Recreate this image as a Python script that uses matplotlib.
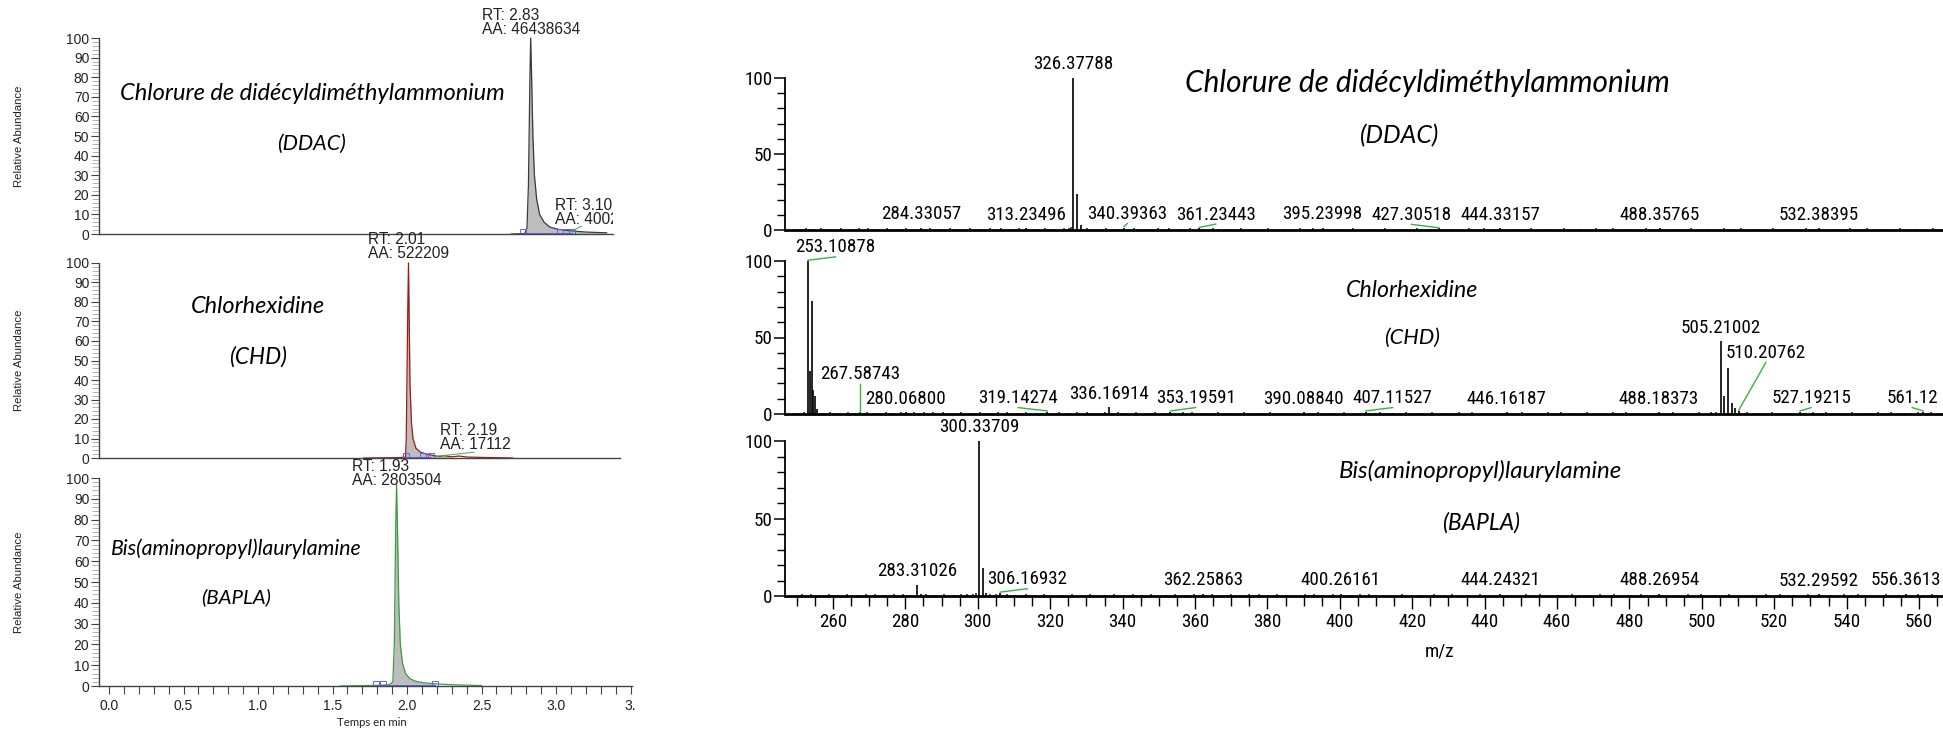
import matplotlib
matplotlib.use("Agg")
import matplotlib.pyplot as plt
from matplotlib.ticker import MultipleLocator, FixedLocator
from matplotlib import font_manager
from matplotlib.font_manager import FontProperties

# ======================= DATA =======================
# --- chromatograms (time, min ; relative abundance, %) ---
ddac_time = [2.70, 2.79, 2.805, 2.815, 2.825, 2.83, 2.835, 2.845, 2.855, 2.87, 2.89, 2.92, 2.96, 3.02, 3.10, 3.20, 3.34]
ddac_abund = [0.0, 0.2, 3.0, 25.0, 80.0, 100.0, 85.0, 50.0, 30.0, 18.0, 10.0, 6.0, 3.5, 2.3, 1.6, 1.0, 0.6]
chd_time = [1.71, 1.95, 1.99, 1.995, 2.005, 2.01, 2.015, 2.02, 2.03, 2.04, 2.06, 2.09, 2.13, 2.18, 2.22, 2.25, 2.30, 2.35, 2.40, 2.50, 2.71]
chd_abund = [0.0, 0.2, 0.5, 10.0, 75.0, 100.0, 70.0, 38.0, 18.0, 10.0, 5.0, 3.0, 2.0, 1.2, 0.8, 1.2, 0.6, 1.0, 0.5, 0.3, 0.0]
bapla_time = [1.55, 1.80, 1.88, 1.905, 1.915, 1.925, 1.93, 1.935, 1.945, 1.955, 1.97, 1.99, 2.02, 2.06, 2.12, 2.20, 2.30, 2.50]
bapla_abund = [0.0, 0.3, 0.6, 2.0, 20.0, 80.0, 97.0, 80.0, 40.0, 20.0, 11.0, 6.0, 3.5, 2.2, 1.5, 1.0, 0.6, 0.2]

# integration limits / markers (min)
ddac_integ = [2.78, 3.03, 3.07, 3.11]
chd_integ = [1.99, 2.11, 2.16]
bapla_integ = [1.79, 1.84, 2.19]

# peak annotations (chromatograms)
ddac_annot = ["RT: 2.83\nAA: 46438634", "RT: 3.10\nAA: 4002"]
chd_annot = ["RT: 2.01\nAA: 522209", "RT: 2.19\nAA: 17112"]
bapla_annot = ["RT: 1.93\nAA: 2803504"]

chrom_ticks = [0.0, 0.5, 1.0, 1.5, 2.0, 2.5, 3.0, 3.5]
chrom_ticklabels = ["0.0", "0.5", "1.0", "1.5", "2.0", "2.5", "3.0", "3."]

# --- mass spectra (m/z ; relative intensity, %) ---
ddac_mz = [326.37788, 327.381, 328.385, 284.33057, 313.23496, 340.39363, 361.23443,
           395.23998, 427.30518, 444.33157, 488.35765, 532.38395]
ddac_int = [100, 24, 3, 1.4, 1.2, 1.6, 1.2, 1.3, 1.0, 1.2, 1.1, 1.0]
ddac_labels = ["326.37788", "284.33057", "313.23496", "340.39363", "361.23443",
               "395.23998", "427.30518", "444.33157", "488.35765", "532.38395"]
ddac_label_mz = [326.37788, 284.33057, 313.23496, 340.39363, 361.23443,
                 395.23998, 427.30518, 444.33157, 488.35765, 532.38395]

chd_mz = [253.10878, 253.61, 254.11, 254.61, 255.10, 255.60, 267.58743, 280.06800,
          319.14274, 336.16914, 353.19591, 390.08840, 407.11527, 446.16187, 488.18373,
          505.21002, 506.21, 507.21, 508.21, 509.21, 510.20762, 527.19215, 561.12]
chd_int = [100, 28, 74, 16, 12, 3, 1.0, 1.2, 1.5, 4.5, 1.5, 1.0, 1.5, 1.0, 1.2,
           47.6, 12, 30, 7, 4, 2, 1.5, 1.5]
chd_labels = ["253.10878", "267.58743", "280.06800", "319.14274", "336.16914", "353.19591",
              "390.08840", "407.11527", "446.16187", "488.18373", "505.21002", "510.20762",
              "527.19215", "561.12"]
chd_label_mz = [253.10878, 267.58743, 280.06800, 319.14274, 336.16914, 353.19591,
                390.08840, 407.11527, 446.16187, 488.18373, 505.21002, 510.20762,
                527.19215, 561.12]

bapla_mz = [300.33709, 301.340, 302.343, 283.31026, 284.31, 306.16932, 362.25863,
            400.26161, 444.24321, 488.26954, 532.29592, 556.3613]
bapla_int = [100, 18, 2.0, 7.4, 1.5, 2.0, 1.5, 1.2, 1.2, 1.2, 1.0, 1.2]
bapla_labels = ["300.33709", "283.31026", "306.16932", "362.25863", "400.26161",
                "444.24321", "488.26954", "532.29592", "556.3613"]
bapla_label_mz = [300.33709, 283.31026, 306.16932, 362.25863, 400.26161,
                  444.24321, 488.26954, 532.29592, 556.3613]

# baseline noise peaks (m/z, %)
ddac_noise = [(250.8, 0.8), (252.6, 1.2), (254.9, 0.6), (256.7, 1.5), (259.3, 0.9), (262.1, 1.1),
              (264.5, 0.7), (267.2, 1.4), (269.8, 1.0), (272.4, 0.8), (274.9, 1.3), (277.6, 0.9),
              (280.3, 1.6), (286.9, 1.1), (289.5, 0.7), (292.2, 1.2), (294.8, 0.9), (297.9, 1.5),
              (300.6, 0.8), (303.5, 1.0), (306.3, 1.4), (309.1, 0.7), (311.4, 1.1), (315.8, 0.9),
              (318.7, 1.3), (321.3, 0.8), (323.9, 1.2), (325.2, 1.6), (325.8, 2.0), (330.1, 1.0),
              (332.6, 0.8), (335.4, 1.3), (338.0, 0.9), (343.2, 1.2), (346.5, 0.7), (349.9, 1.1),
              (352.7, 1.4), (355.8, 0.8), (358.6, 1.0), (364.9, 1.2), (368.3, 0.9), (372.6, 1.3),
              (376.4, 0.7), (380.2, 1.1), (384.7, 0.8), (389.0, 1.2), (392.5, 1.0), (399.3, 0.9),
              (403.7, 1.3), (408.1, 0.8), (412.6, 1.1), (416.9, 0.7), (421.4, 1.2), (431.0, 0.9),
              (435.6, 1.0), (439.9, 1.3), (448.2, 0.8), (452.7, 1.1), (457.3, 0.9), (461.8, 1.2),
              (466.4, 0.7), (470.9, 1.0), (475.5, 1.3), (480.0, 0.8), (484.6, 1.1), (492.7, 0.9),
              (497.1, 1.2), (501.6, 0.8), (506.2, 1.0), (510.7, 1.3), (515.3, 0.9), (519.8, 1.1),
              (524.4, 0.7), (528.9, 1.2), (536.5, 0.8), (541.0, 1.0), (545.6, 1.3), (550.1, 0.9),
              (554.7, 1.1), (559.2, 0.8), (563.8, 1.0)]
chd_noise = [(250.5, 0.9), (251.9, 1.2), (257.3, 0.7), (259.1, 1.0), (261.8, 0.8), (264.2, 1.1),
             (266.0, 0.7), (269.5, 1.2), (272.1, 0.8), (274.6, 1.0), (276.4, 0.9), (278.9, 1.3),
             (282.5, 1.1), (285.1, 1.4), (287.7, 1.2), (290.3, 1.0), (292.9, 0.8), (295.4, 1.1),
             (298.0, 0.9), (300.5, 1.2), (303.1, 0.8), (305.6, 1.0), (308.2, 1.3), (310.7, 0.9),
             (313.3, 1.1), (315.8, 0.8), (322.4, 1.2), (325.0, 0.9), (327.5, 1.0), (330.1, 1.3),
             (332.6, 0.8), (335.2, 1.1), (338.7, 1.6), (341.3, 0.9), (343.8, 1.1), (346.4, 0.8),
             (349.0, 1.2), (351.5, 0.9), (356.6, 1.0), (359.2, 1.3), (362.8, 0.8), (366.4, 1.1),
             (370.0, 0.9), (373.6, 1.2), (377.2, 0.7), (380.8, 1.0), (384.4, 0.8), (393.9, 1.1),
             (397.5, 0.9), (401.1, 1.2), (411.2, 1.0), (414.8, 0.8), (418.4, 1.1), (422.0, 0.9),
             (425.6, 1.2), (429.2, 0.8), (432.8, 1.0), (436.4, 1.3), (440.0, 0.9), (450.2, 1.1),
             (453.8, 0.8), (457.4, 1.0), (461.0, 1.2), (464.6, 0.9), (468.2, 1.1), (471.8, 0.8),
             (475.4, 1.0), (479.0, 1.3), (482.6, 0.9), (492.1, 1.1), (495.7, 0.8), (499.3, 1.2),
             (502.6, 1.0), (503.8, 1.5), (512.4, 1.2), (515.9, 0.9), (519.5, 1.1), (523.1, 0.8),
             (530.8, 1.0), (534.4, 1.2), (538.0, 0.9), (541.6, 1.1), (545.2, 0.8), (548.8, 1.0),
             (552.4, 1.2), (556.0, 0.9), (559.6, 1.3), (563.2, 1.0)]
bapla_noise = [(251.3, 1.0), (253.8, 1.2), (256.4, 0.9), (258.9, 1.1), (261.5, 0.8), (264.0, 1.2),
               (266.6, 0.9), (269.1, 1.1), (271.7, 1.3), (274.2, 0.8), (276.8, 1.0), (279.3, 1.2),
               (281.5, 0.9), (285.6, 1.4), (288.2, 0.8), (290.7, 1.1), (293.3, 0.9), (295.4, 1.3),
               (297.0, 1.2), (298.6, 1.5), (299.6, 1.8), (303.4, 1.3), (304.9, 1.0), (308.1, 1.1),
               (310.6, 0.8), (313.2, 1.2), (315.7, 0.9), (318.3, 1.0), (323.4, 0.8), (326.0, 1.1),
               (328.5, 0.9), (331.1, 1.2), (335.2, 0.8), (337.7, 1.1), (340.3, 0.9), (342.8, 1.0),
               (345.4, 0.8), (347.9, 1.2), (352.0, 0.9), (354.6, 1.1), (357.1, 0.8), (359.7, 1.0),
               (364.8, 1.2), (367.4, 0.9), (369.9, 1.1), (372.5, 0.8), (375.0, 1.0), (377.6, 1.2),
               (380.1, 0.9), (382.7, 1.1), (385.2, 0.8), (390.3, 1.0), (392.9, 1.2), (395.4, 0.9),
               (398.0, 1.1), (403.1, 0.8), (405.6, 1.0), (408.2, 1.2), (412.0, 0.9), (417.1, 1.1),
               (422.2, 0.8), (426.0, 1.0), (431.1, 1.2), (435.0, 0.9), (438.8, 1.1), (447.7, 0.8),
               (451.5, 1.0), (455.3, 1.2), (460.4, 0.9), (464.2, 1.1), (468.0, 0.8), (471.9, 1.0),
               (475.7, 1.2), (479.5, 0.9), (483.3, 1.1), (492.2, 0.8), (496.1, 1.0), (499.9, 1.2),
               (503.7, 0.9), (507.5, 1.1), (514.0, 0.8), (517.8, 1.0), (521.6, 1.2), (525.4, 0.9),
               (529.2, 1.1), (535.6, 0.8), (539.4, 1.0), (543.2, 1.2), (547.0, 0.9), (550.8, 1.1),
               (554.6, 0.8), (559.7, 1.0), (563.5, 1.2)]

spectrum_ticks = list(range(260, 561, 20))

compound_names = ["Chlorure de didécyldiméthylammonium", "Chlorhexidine", "Bis(aminopropyl)laurylamine"]
compound_abbr = ["(DDAC)", "(CHD)", "(BAPLA)"]

# ======================= LAYOUT =======================
W, H, DPI = 1943, 731, 100
ARIAL = "Liberation Sans"
CAL = "Lato"


def find_condensed():
    prefs = ["Liberation Sans Narrow", "Arial Narrow", "Roboto Condensed", "Noto Sans",
             "Open Sans", "DejaVu Sans", "Roboto"]
    best, best_rank = None, 99
    for f in font_manager.fontManager.ttflist:
        fn = f.fname.lower().replace("_", "").replace("-", "")
        st = str(f.stretch).lower()
        cond = ("narrow" in fn or "condensed" in fn or st == "condensed")
        if not cond:
            continue
        if any(k in fn for k in ("semi", "extra", "ultra", "italic", "oblique", "bold",
                                 "light", "thin", "medium", "black")):
            continue
        if f.style != "normal":
            continue
        rank = prefs.index(f.name) if f.name in prefs else 50
        if rank < best_rank:
            best, best_rank = f.fname, rank
    return best


_cond = find_condensed()
fig = plt.figure(figsize=(W / DPI, H / DPI), dpi=DPI)
fig.patch.set_facecolor("white")
renderer = fig.canvas.get_renderer()


def narrow_fp(size):
    if _cond:
        return FontProperties(fname=_cond, size=size)
    return FontProperties(family=ARIAL, size=size)


def fitted_size(text, target_w, **kw):
    probe = fig.text(0, 0, text, fontsize=20, **kw)
    w = probe.get_window_extent(renderer).width
    probe.remove()
    return 20 * target_w / w


def fitted_narrow(text, target_w):
    probe = fig.text(0, 0, text, fontproperties=narrow_fp(20))
    w = probe.get_window_extent(renderer).width
    probe.remove()
    return 20 * target_w / w


NSIZE = fitted_narrow("326.37788", 80)
NFP = narrow_fp(NSIZE)


def add_ax(l, r, t, b):
    return fig.add_axes([l / W, 1 - b / H, (r - l) / W, (b - t) / H])


def fxy(x, y):
    return x / W, 1 - y / H


# ---------- left: chromatograms ----------
X0_PX, PX_PER_MIN = 109, 149
left_boxes = [(99, 613, 38, 234), (99, 620, 263, 458), (99, 632, 478, 686)]
chrom_sets = [
    (ddac_time, ddac_abund, ddac_integ, "#3a3a3a", (2.79, 3.34)),
    (chd_time, chd_abund, chd_integ, "#a01818", (1.99, 2.26)),
    (bapla_time, bapla_abund, bapla_integ, "#3d9e3d", (1.89, 2.19)),
]
left_axes = []
for i, ((l, r, t, b), (tm, ab, integ, col, win)) in enumerate(zip(left_boxes, chrom_sets)):
    ax = add_ax(l, r, t, b)
    left_axes.append(ax)
    ax.set_xlim((l - X0_PX) / PX_PER_MIN, (r - X0_PX) / PX_PER_MIN)
    ax.set_ylim(0, 100)
    for s in ["top", "right"]:
        ax.spines[s].set_visible(False)
    for s in ["left", "bottom"]:
        ax.spines[s].set_color("#444444")
        ax.spines[s].set_linewidth(1.0)
    mask = [win[0] <= x <= win[1] for x in tm]
    ax.fill_between(tm, ab, 0, where=mask, interpolate=True, color="#bdbdbd", lw=0)
    ax.plot(tm, ab, color=col, lw=0.9, clip_on=False)
    ax.plot([integ[0], integ[-1]], [0.5, 0.5], color="#6060ff", lw=0.7)
    ax.plot(integ, [0.8] * len(integ), "s", mfc="none", mec="#6060ff", ms=4, mew=0.7)
    ax.yaxis.set_major_locator(MultipleLocator(10))
    ax.yaxis.set_minor_locator(MultipleLocator(2))
    ax.tick_params(axis="y", which="major", direction="out", length=6, width=0.8,
                   color="#444444", labelsize=10, pad=1, labelcolor="#222222")
    ax.tick_params(axis="y", which="minor", direction="out", length=5, width=0.6, color="#aaaaaa")
    for lab in ax.get_yticklabels():
        lab.set_fontfamily(ARIAL)
    if i < 2:
        ax.set_xticks([])
    else:
        ax.xaxis.set_major_locator(FixedLocator(chrom_ticks))
        ax.set_xticklabels(chrom_ticklabels, fontfamily=ARIAL, fontsize=10, color="#222222")
        ax.xaxis.set_minor_locator(MultipleLocator(0.1))
        ax.tick_params(axis="x", which="both", direction="out", length=6, width=0.8,
                       color="#444444", pad=3)
    ax.set_facecolor("none")
    cy = (t + b) / 2
    fig.text(*fxy(19, cy), "Relative Abundance", rotation=90, ha="center", va="center",
             fontsize=8.2, fontfamily=ARIAL, color="#222222")

ann_kw = dict(fontsize=11.2, fontfamily=ARIAL, color="#222222", linespacing=0.92)
a0, a1, a2 = left_axes
a0.text(2.83, 100.5, ddac_annot[0], ha="center", va="bottom", multialignment="left", clip_on=False, **ann_kw)
a0.text(2.99, 3.5, ddac_annot[1], ha="left", va="bottom", multialignment="left", clip_on=True, **ann_kw)
a0.plot([3.10, 3.17], [1.2, 4.0], color="#3cb043", lw=0.7)
a1.text(2.01, 101.0, chd_annot[0], ha="center", va="bottom", multialignment="left", clip_on=False, **ann_kw)
a1.text(2.22, 3.0, chd_annot[1], ha="left", va="bottom", multialignment="left", **ann_kw)
a1.plot([2.19, 2.45], [0.8, 3.0], color="#3cb043", lw=0.7)
a2.text(1.93, 95.0, bapla_annot[0], ha="center", va="bottom", multialignment="left", clip_on=False, **ann_kw)
fig.text(*fxy(372, 723), "Temps en min", ha="center", va="center", fontsize=8.2,
         fontfamily=CAL, color="#222222")

# ---------- right: mass spectra ----------
MZ_REF, MZ_REF_PX, PX_PER_MZ = 260, 833, 3.62
right_boxes = [(785, 1943, 78, 230), (785, 1943, 261, 414), (785, 1943, 441, 596)]
spec_sets = [
    (ddac_mz, ddac_int, ddac_noise, ddac_labels, ddac_label_mz,
     [0, 0, 0, 0.9, 4.5, 0, -7.5, 0, 0, 0], [None] * 10),
    (chd_mz, chd_int, chd_noise, chd_labels, chd_label_mz,
     [7.6, 0, 0, -8, 0, 7, 0, 7.5, 0, 0, 0, 7.5, 3, -3],
     [None, 20, None, None, None, None, None, None, None, None, None, 34, None, None]),
    (bapla_mz, bapla_int, bapla_noise, bapla_labels, bapla_label_mz,
     [0, 0, 7.5, 0, 0, 0, 0, 0, 0], [None] * 9),
]
GREEN = "#3cb043"
for i, ((l, r, t, b), (mz, it, noise, labs, lmz, dxs, ys)) in enumerate(zip(right_boxes, spec_sets)):
    ax = add_ax(l, r, t, b)
    ax.set_xlim(MZ_REF + (l - MZ_REF_PX) / PX_PER_MZ, MZ_REF + (r - MZ_REF_PX) / PX_PER_MZ)
    ax.set_ylim(0, 100)
    for s in ["top", "right"]:
        ax.spines[s].set_visible(False)
    ax.spines["left"].set_linewidth(1.3)
    ax.spines["bottom"].set_linewidth(2.0)
    ax.vlines([p[0] for p in noise], 0, [p[1] for p in noise], color="#222222", lw=1.1)
    ax.vlines(mz, 0, it, color="black", lw=1.2)
    height = dict(zip(mz, it))
    for txt, m, dx, yv in zip(labs, lmz, dxs, ys):
        h = height[m]
        yb = yv if yv is not None else h + 3.0
        ax.text(m + dx, yb, txt, ha="center", va="bottom", fontproperties=NFP,
                color="black", clip_on=False)
        if dx != 0 or yv is not None:
            ax.plot([m, m + dx], [h + 0.5, yb - 0.3], color=GREEN, lw=1.0, clip_on=False)
    ax.yaxis.set_major_locator(FixedLocator([0, 50, 100]))
    ax.yaxis.set_minor_locator(MultipleLocator(10))
    ax.tick_params(axis="y", which="major", direction="out", length=8, width=1.1, pad=1)
    ax.tick_params(axis="y", which="minor", direction="out", length=6, width=1.0)
    for lab in ax.get_yticklabels():
        lab.set_fontproperties(NFP)
    if i < 2:
        ax.set_xticks([])
    else:
        ax.xaxis.set_major_locator(FixedLocator(spectrum_ticks))
        ax.xaxis.set_minor_locator(MultipleLocator(5))
        ax.tick_params(axis="x", which="major", direction="out", length=9, width=1.0, pad=3)
        ax.tick_params(axis="x", which="minor", direction="out", length=7, width=1.0)
        for lab in ax.get_xticklabels():
            lab.set_fontproperties(NFP)
    ax.set_facecolor("none")

fig.text(*fxy(1440, 652), "m/z", ha="center", va="center", fontproperties=NFP, color="black")

# ---------- compound names (centre px, target width px) ----------
left_name_layout = [((312, 93), 385), ((258, 306), 134), ((236, 549), 251)]
left_abbr_layout = [((312, 144), 69), ((258, 357), 58), ((236, 597), 70)]
right_name_layout = [((1427, 83), 483), ((1412, 290), 132), ((1480, 471), 282)]
right_abbr_layout = [((1400, 136), 79), ((1412, 338), 56), ((1481, 523), 78)]

name_kw = dict(fontfamily=CAL, style="italic", color="black")
for texts, layouts in [(compound_names, left_name_layout), (compound_abbr, left_abbr_layout),
                       (compound_names, right_name_layout), (compound_abbr, right_abbr_layout)]:
    for s, (pos, tw) in zip(texts, layouts):
        fs = fitted_size(s, tw, **name_kw)
        fig.text(*fxy(*pos), s, fontsize=fs, ha="center", va="center", **name_kw)

fig.savefig("out.png", dpi=DPI, facecolor="white")
